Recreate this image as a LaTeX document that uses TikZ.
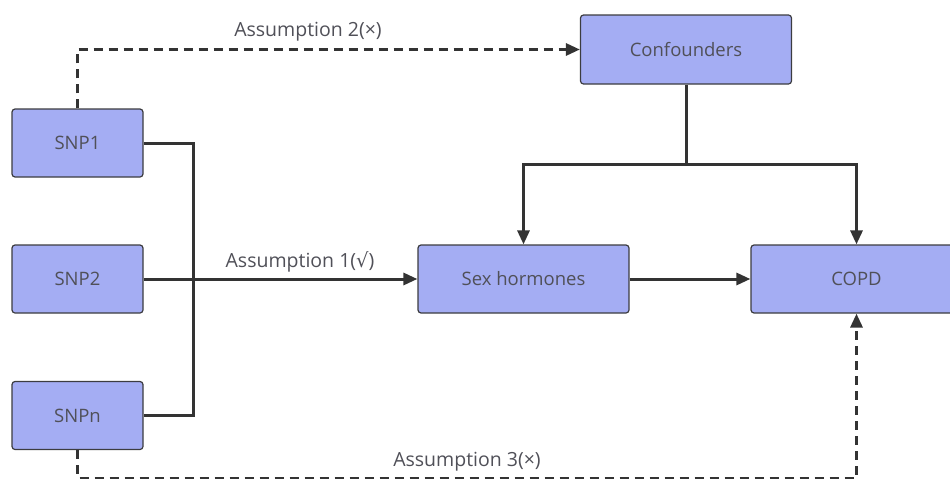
\documentclass[tikz,border=0pt]{standalone}
\usepackage{fontspec}
\setmainfont{Open Sans}
\newfontfamily\symfont{DejaVu Sans}
\usetikzlibrary{arrows.meta}
\definecolor{boxfill}{RGB}{164,173,243}
\definecolor{boxline}{RGB}{60,60,64}
\definecolor{txt}{RGB}{80,80,88}
\definecolor{wire}{RGB}{51,51,51}
\tikzset{
  box/.style={draw=boxline, line width=1.2pt, fill=boxfill, rounded corners=3pt,
    minimum height=68pt, text=txt, font=\fontsize{18.5}{22}\selectfont, inner sep=0pt},
  smallbox/.style={box, minimum width=131pt},
  bigbox/.style={box, minimum width=211pt},
  wireline/.style={draw=wire, line width=3pt},
  arr/.style={wireline, -{Triangle[length=14pt,width=12pt]}},
  dashwire/.style={draw=wire, line width=3pt, dash pattern=on 9pt off 6pt},
  lab/.style={text=txt, font=\fontsize{19.5}{23}\selectfont, inner sep=0pt}
}
\begin{document}
\begin{tikzpicture}[x=1pt,y=-1pt]
\useasboundingbox (0,0) rectangle (950,479);
\clip (0,0) rectangle (950,479);
\node[smallbox] (snp1) at (77.5,143) {SNP1};
\node[smallbox] (snp2) at (77.5,279) {SNP2};
\node[smallbox] (snpn) at (77.5,415.5) {SNPn};
\node[bigbox, minimum height=69pt] (conf) at (686,49.5) {Confounders};
\node[bigbox] (sex) at (523.5,279) {Sex hormones};
\node[bigbox] (copd) at (856.5,279) {COPD};
\coordinate (j) at (193,279);
\coordinate (b) at (686,164);
\coordinate (bot) at (77.5,478);
% SNP bundle
\draw[wireline, line join=miter] (snp1.east) -| (j) |- (snpn.east);
\draw[arr] (snp2.east) -- (sex.west);
% confounders branch
\draw[wireline] (conf.south) -- (b);
\draw[arr] (b) -| (sex.north);
\draw[arr] (b) -| (copd.north);
\draw[arr] (sex.east) -- (copd.west);
% dashed assumptions
\draw[dashwire, -{Triangle[length=14pt,width=12pt]}] (snp1.north) |- (conf.west);
\draw[dashwire, -{Triangle[length=14pt,width=12pt]}] (snpn.south) -- (bot) -| (copd.south);
% labels
\node[lab] (l2) at (308,31.5) {Assumption 2(×)};
\node[lab] (l1) at (300,261.5) {Assumption 1({\symfont √})};
\node[lab] (l3) at (467,461.5) {Assumption 3(×)};
\end{tikzpicture}
\end{document}
